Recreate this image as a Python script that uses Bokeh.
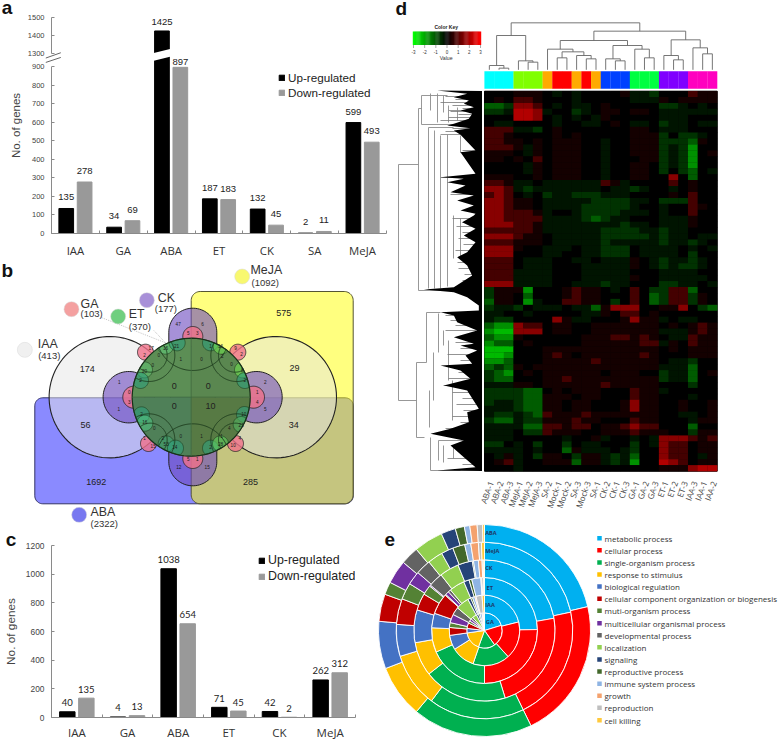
import math
import numpy as np
from bokeh.embed import file_html
from bokeh.resources import INLINE
from bokeh.layouts import row, column
from bokeh.models import (ColumnDataSource, FixedTicker, Legend, LegendItem,
                          LinearAxis, LinearColorMapper, Range1d)
from bokeh.plotting import figure
from bokeh.core.properties import value

# ---------- panel a ----------
a_cats = ["IAA", "GA", "ABA", "ET", "CK", "SA", "MeJA"]
a_up = [135, 34, 1425, 187, 132, 2, 599]
a_down = [278, 69, 897, 183, 45, 11, 493]
a_ticks = [0, 100, 200, 300, 400, 500, 600, 700, 800, 900, 1300, 1400, 1500]
# ---------- panel c ----------
c_cats = ["IAA", "GA", "ABA", "ET", "CK", "MeJA"]
c_up = [40, 4, 1038, 71, 42, 262]
c_down = [135, 13, 654, 45, 2, 312]
c_ticks = [0, 200, 400, 600, 800, 1000, 1200]
# ---------- panel b : region counts ----------
venn_big = [("174", 260, 340), ("575", 850, 172), ("29", 882, 338), ("34", 880, 508), ("56", 255, 507),
            ("1692", 287, 680), ("285", 750, 680), ("0", 521, 390), ("0", 623, 390), ("0", 521, 452), ("10", 630, 452)]
venn_small = [("47", 533, 205), ("6", 606, 205), ("5", 563, 231), ("3", 590, 231), ("17", 452, 277), ("2", 432, 298),
              ("16", 495, 278), ("21", 528, 270), ("0", 475, 297), ("0", 457, 328), ("1", 541, 309), ("0", 603, 309),
              ("1", 630, 270), ("16", 660, 272), ("9", 705, 277), ("2", 723, 295), ("2", 665, 300), ("0", 693, 326),
              ("20", 432, 345), ("2", 420, 372), ("8", 725, 343), ("2", 733, 373), ("1", 356, 380), ("1", 355, 459),
              ("0", 386, 410), ("3", 386, 440), ("2", 794, 379), ("5", 794, 459), ("1", 770, 410), ("4", 770, 440),
              ("2", 423, 476), ("16", 433, 500), ("0", 461, 516), ("2", 487, 547), ("1", 432, 547), ("15", 458, 570),
              ("53", 497, 565), ("14", 523, 573), ("0", 541, 540), ("1", 603, 540), ("1", 663, 540), ("4", 686, 517),
              ("10", 730, 476), ("21", 722, 507), ("4", 718, 548), ("10", 698, 568), ("2", 630, 573), ("28", 660, 565),
              ("5", 563, 610), ("1", 590, 610), ("12", 535, 635), ("15", 620, 635)]
venn_names = [("IAA", "(413)", 73, 283, 112, 265, 113, 300, "#F0F0F0"),
              ("GA", "(103)", 213, 161, 240, 145, 240, 175, "#F4A0A0"),
              ("ET", "(370)", 353, 183, 385, 175, 385, 213, "#6FCF7F"),
              ("CK", "(177)", 439, 134, 472, 128, 463, 158, "#A890D8"),
              ("MeJA", "(1092)", 725, 63, 750, 43, 753, 82, "#F8F870"),
              ("ABA", "(2322)", 236, 778, 270, 770, 270, 803, "#7878F0")]
# ---------- panel d ----------
d_samples = ["ABA-1", "ABA-2", "ABA-3", "MeJA-1", "MeJA-2", "MeJA-3", "SA-2", "Mock-1", "Mock-2", "SA-3", "Mock-3",
             "SA-1", "CK-2", "CK-1", "CK-3", "GA-1", "GA-2", "GA-3", "ET-1", "ET-2", "ET-3", "IAA-3", "IAA-1", "IAA-2"]
d_group_colors = ["#00FFFF"] * 3 + ["#80FF00"] * 3 + ["#FFAA00", "#FF0000", "#FF0000", "#FFAA00", "#FF0000", "#FFAA00"] + \
                 ["#0040FF"] * 3 + ["#00FF40"] * 3 + ["#8000FF"] * 3 + ["#FF00BF"] * 3
d_levels = {"0": -2.2, "1": -1.7, "2": -1.1, "3": -0.6, "4": -0.25, "5": 0, "6": 0.25, "7": 0.8, "8": 1.6, "9": 2.1}
d_rows = [
    "555 666 545455 556 443 555 766", "565 776 555455 555 444 656 666", "223 887 545445 655 555 334 545",
    "334 998 455345 665 665 444 444", "555 998 545454 655 555 444 555", "544 555 545544 565 445 344 544",
    "777 443 565555 555 665 444 555", "776 555 565655 555 666 353 345", "776 656 566655 455 666 333 265",
    "777 646 566655 455 666 343 155", "666 546 566655 455 666 343 156", "665 657 566655 455 566 343 155",
    "555 546 566655 455 665 343 155", "555 546 566655 455 665 353 254", "666 556 566655 455 665 585 255",
    "776 445 444444 764 555 575 655", "887 434 444444 544 345 545 655", "787 545 344333 444 555 565 755",
    "887 665 444443 333 445 333 755", "887 665 444433 333 455 455 765", "887 776 455433 334 445 455 755",
    "887 777 444432 344 555 444 655", "888 776 444444 443 445 444 655", "777 776 444444 333 344 344 555",
    "888 766 544444 333 334 344 544", "777 666 544444 344 444 344 345", "888 655 444544 333 544 445 454",
    "888 555 445544 333 544 445 355", "777 544 455445 444 654 344 345", "777 544 455544 444 654 343 345",
    "777 444 455544 444 555 444 455", "777 444 455544 444 655 444 445", "888 444 455444 344 555 334 454",
    "366 615 556766 545 753 377 255", "366 525 556766 555 752 377 365", "266 514 557766 535 752 377 365",
    "344 354 445442 688 855 668 532", "445 545 555544 657 756 555 555", "433 555 586445 556 866 454 455",
    "211 877 566556 666 666 565 676", "100 888 566556 666 666 444 676", "211 655 555566 677 676 544 766",
    "122 565 555566 666 677 465 766", "000 555 666666 666 666 565 666", "001 555 676566 666 676 555 666",
    "112 555 666667 666 666 544 355", "232 656 666666 666 666 444 255", "321 565 666666 566 655 344 256",
    "322 555 667666 666 666 344 255", "444 665 666666 766 666 555 355", "333 322 565666 555 766 455 555",
    "333 322 666566 555 766 555 455", "344 322 665665 556 866 556 556", "444 322 665665 556 866 556 556",
    "433 432 766676 666 666 554 456", "322 433 666766 555 766 555 466", "444 422 776775 667 877 555 255",
    "444 533 766655 666 766 655 366", "444 555 554556 455 454 888 767", "335 453 553544 555 354 877 566",
    "444 454 552644 454 355 877 566", "546 453 665366 434 255 877 546", "567 455 666266 434 155 987 566",
    "555 455 555555 555 555 666 899"]
# column dendrogram : (merge height, left, right), leaves are column indices
d_tree = (67, (105, (195, 0, (203, 1, 2)), (181, 3, (185, 4, 5))),
          (92, (120, (146, 6, (154, (172, 7, 8), (165, 9, (175, 10, 11)))),
                (135, (175, 12, (181, 13, 14)), (146, 15, (172, 16, 17)))),
           (118, (165, 18, (178, 19, 20)), (142, 21, (160, 22, 23)))))
# row dendrogram outline (black mass), (y, x), in three stretches
den_top = [(15, 80), (25, 170), (35, 130), (45, 175), (55, 160), (65, 190), (75, 150), (85, 185), (100, 175), (115, 130),
           (120, 110), (128, 180), (135, 130), (148, 150), (195, 195), (200, 150), (265, 195), (275, 90), (280, 160),
           (290, 110), (300, 165), (320, 120), (330, 190), (345, 140), (360, 190), (375, 150), (385, 195)]
den_mid = [(0, 190), (20, 155), (40, 195), (60, 160), (80, 195), (110, 170), (125, 140), (150, 170), (180, 185), (215, 130),
           (222, 40), (230, 130), (245, 170), (270, 205), (285, 205), (290, 90), (300, 130), (320, 140), (345, 200), (365, 130), (385, 190)]
den_low = [(0, 150), (15, 200), (30, 165), (55, 185), (60, 90), (75, 150), (100, 180), (120, 100), (135, 170), (190, 205),
           (200, 170), (230, 175), (250, 120), (265, 60), (285, 160), (300, 120), (335, 160), (365, 195), (375, 80)]
# gray branches of the row dendrogram, as (x0, y0, x1, y1)
den_lines = [(398, 164, 398, 400), (398, 164, 418, 164), (398, 400, 416, 400), (418, 108, 418, 290), (418, 108, 421, 108),
             (418, 290, 455, 290), (421, 95, 421, 124), (421, 95, 447, 95), (421, 124, 470, 124), (430, 93, 430, 110),
             (437, 93, 437, 122), (443, 95, 443, 112), (448, 105, 448, 122), (457, 107, 457, 120), (448, 110, 463, 110),
             (428, 127, 428, 288), (428, 127, 453, 127), (434, 130, 434, 288), (440, 135, 440, 288), (440, 177, 473, 177),
             (447, 134, 447, 177), (440, 134, 460, 134), (460, 135, 460, 152), (460, 152, 473, 152), (447, 177, 447, 286),
             (453, 215, 453, 258), (460, 218, 460, 258), (416, 362, 416, 437), (416, 362, 426, 362), (416, 437, 424, 437),
             (426, 312, 426, 362), (426, 312, 440, 312), (429, 390, 429, 427), (433, 352, 433, 400), (438, 313, 438, 352),
             (443, 330, 443, 345), (448, 340, 448, 380), (452, 380, 452, 420), (430, 437, 430, 470), (430, 470, 460, 470),
             (438, 440, 438, 460), (438, 440, 463, 440), (443, 445, 443, 462), (453, 445, 453, 458), (443, 385, 470, 385)]
# fine leaves left of the black mass: (y, x where the leaf starts)
den_comb = [(96, 445), (99, 455), (102, 440), (105, 452), (108, 462), (111, 450), (114, 458), (117, 448), (120, 440), (128, 452),
            (131, 445), (150, 462), (194, 450), (218, 452), (222, 462), (226, 456), (232, 462), (238, 458), (244, 463), (250, 455),
            (256, 460), (262, 457), (268, 458), (274, 464), (280, 462), (286, 455), (315, 445), (320, 450), (325, 455), (330, 445),
            (336, 462), (342, 455), (348, 460), (354, 447), (360, 460), (366, 452), (372, 458), (378, 448), (392, 452), (398, 462),
            (404, 456), (410, 463), (416, 452), (422, 460), (428, 445), (446, 452), (452, 460), (458, 447), (464, 462)]
# ---------- panel e : end angle of each class, degrees clockwise from the top ----------
e_terms = ["metabolic process", "cellular process", "single-organism process", "response to stimulus", "biological regulation",
           "cellular component organization or biogenesis", "muti-organism process", "multicellular organismal process",
           "developmental process", "localization", "signaling", "reproductive process", "immune system process",
           "growth", "reproduction", "cell killing"]
e_colors = ["#00B0F0", "#FF0000", "#00B050", "#FFC000", "#4472C4", "#C00000", "#548235", "#7030A0", "#636363", "#92D050",
            "#264478", "#43682B", "#8FB4E3", "#F4A26E", "#BFBFBF", "#FFC93C"]
e_rings = ["GA", "IAA", "ET", "CK", "MeJA", "ABA"]
e_GA = [73, 145, 200, 262, 277, 295, 303, 311, 318, 333, 340, 345, 352, 355, 358, 360]
e_IAA = [76, 138, 199, 238, 262, 275, 283, 297, 310, 332, 337, 340, 344, 346, 356, 360]
e_ET = [89, 180, 246, 273, 289, 312, 313, 317, 320, 337, 343, 346, 356, 357, 359, 360]
e_CK = [80, 163, 232, 260, 287, 301, 309, 310, 322, 338, 350, 351, 355, 358, 359, 360]
e_MeJA = [78, 154, 217, 253, 274, 291, 302, 311, 321, 331, 339, 347, 351, 356, 358, 360]
e_ABA = [77, 154, 220, 249, 275, 290, 297, 310, 320, 336, 344, 349, 352, 356, 359, 360]

SANS = "Liberation Sans"
AX = "#8A8A8A"


def blank(w, h, xr, yr, **kw):
    p = figure(width=w, height=h, x_range=xr, y_range=yr, toolbar_location=None, output_backend="svg",
               x_axis_type=None, y_axis_type=None, min_border=0, frame_align=False, **kw)
    p.grid.visible = False
    p.outline_line_color = None
    p.background_fill_color = None
    p.border_fill_color = None
    return p


def tag(p, s, x, y):
    p.text([x], [y], text=[s], text_font=value(SANS), text_font_style="bold", text_font_size="19px",
           text_color="#111111", text_baseline="alphabetic", level="overlay")


def bars(w, h, x0, x1, ybot, top_px, cats, up, down, f, y_end, ticks, bar_w, off, tick_pt, cat_pt, cat_off, lab_font, lab_pt,
         lab_off, leg_xy, leg_pt, ylabel_pt, ylabel_standoff):
    n = len(cats)
    p = figure(width=w, height=h, x_range=Range1d(0, n), y_range=Range1d(0, y_end), toolbar_location=None,
               output_backend="svg", min_border_left=int(round(x0)), min_border_right=w - int(round(x1)),
               min_border_top=int(round(top_px)), min_border_bottom=int(round(h - ybot)), frame_align=False,
               x_axis_type=None, y_axis_type=None)
    p.grid.visible = False
    p.outline_line_color = None
    p.border_fill_color = None
    xs = np.arange(n) + 0.5
    ftk = [float(f(t)) for t in ticks]
    yax = LinearAxis(ticker=FixedTicker(ticks=ftk),
                     major_label_overrides={(int(v) if v == int(v) else v): str(t) for v, t in zip(ftk, ticks)})
    yax.axis_label = "No. of genes"
    yax.axis_label_text_font = SANS
    yax.axis_label_text_font_style = "normal"
    yax.axis_label_text_font_size = ylabel_pt
    yax.axis_label_standoff = ylabel_standoff
    yax.major_label_text_font = SANS
    yax.major_label_text_font_size = tick_pt
    yax.major_label_standoff = 7
    yax.major_tick_in = 3
    yax.major_tick_out = 0
    yax.minor_tick_line_color = None
    yax.major_tick_line_color = AX
    yax.axis_line_color = AX
    p.add_layout(yax, "left")
    xax = LinearAxis(ticker=FixedTicker(ticks=list(range(n + 1))), major_label_text_font_size="1px",
                     major_label_overrides={i: "" for i in range(n + 1)})
    xax.major_label_standoff = 0
    xax.major_tick_line_color = AX
    xax.major_tick_in = 3
    xax.major_tick_out = 0
    xax.minor_tick_line_color = None
    xax.axis_line_color = AX
    p.add_layout(xax, "below")
    p.text(x=xs, y=[0] * n, text=cats, y_offset=cat_off, text_align="center", text_baseline="middle",
           text_font=value("Open Sans"), text_font_size=cat_pt, text_color="#333333", level="overlay")
    r1 = p.vbar(x=xs - off, top=[f(v) for v in up], width=bar_w, color="#000000")
    r2 = p.vbar(x=xs + off, top=[f(v) for v in down], width=bar_w, color="#999999")
    for xx, vals, os in ((xs - off, up, lab_off[0]), (xs + off, down, lab_off[1])):
        src = ColumnDataSource(dict(x=xx, y=[f(v) for v in vals], t=[str(v) for v in vals], o=os))
        p.text(x="x", y="y", text="t", y_offset="o", text_align="center", text_baseline="middle",
               text_font=value(lab_font), text_font_size=lab_pt, text_color="#222222", source=src, level="overlay")
    lg = Legend(items=[LegendItem(label="Up-regulated", renderers=[r1]), LegendItem(label="Down-regulated", renderers=[r2])],
                location=leg_xy, background_fill_alpha=0, border_line_color=None, glyph_width=7, glyph_height=7,
                label_text_font=SANS, label_text_font_size=leg_pt, label_standoff=3, padding=0, margin=0, spacing=2,
                label_height=12, label_text_color="#222222")
    p.add_layout(lg, "center")
    return p


# ---- panel a: broken axis, the part above the break is folded down
def fa(v):
    return v if v <= 900 else 972 + (v - 1300) * 0.97


a_s = 0.1855
a_off = ([-11, -11, -9, -11, -11, -11, -11], [-11, -11, -5, -11, -11, -11, -11])
pa = bars(388, 257, 50.7, 385.7, 233, 233 - fa(1500) * a_s, a_cats, a_up, a_down, fa, fa(1500), a_ticks, 0.307, 0.192,
          "7.5px", "11.4px", 17, "Liberation Sans", "9.5px", a_off, (227, 134), "11.7px", "11.5px", 3)
pa.yaxis[0].axis_line_color = None
pax = lambda X: (X - 50.7) / 47.86
pay = lambda Y: (233 - Y) / a_s
pa.segment(x0=[0, 0], x1=[0, 0], y0=[fa(0), fa(1300)], y1=[fa(900), fa(1500)], line_color=AX, level="overlay")
pa.segment(x0=[pax(45), pax(45)], x1=[pax(60), pax(60)], y0=[pay(57.3), pay(61.7)], y1=[pay(52), pay(56.7)],
           line_color="#666666", level="overlay")
pa.patch(x=[pax(153), pax(169.2), pax(169.2), pax(153)], y=[pay(52.3), pay(48.3), pay(56), pay(60)], color="white", line_width=0)
tag(pa, "a", pax(1), pay(7))

# ---- panel c
fc = lambda v: v
c_off = ([-9] * 6, [-9] * 6)
pc = bars(388, 209, 47.3, 355, 717.3 - 530, 14.7, c_cats, c_up, c_down, fc, 1200, c_ticks, 0.305, 0.188,
          "8.4px", "11.5px", 14.5, "Lato", "9.5px", c_off, (207, 134), "12.4px", "11.8px", 5)
tag(pc, "c", (1 - 47.3) / 51.28, (717.3 - 539) / 0.1438)


# ---- panel b
def Z(v):
    return v / 3


def ZY(v):
    return 255 + v / 3


pb = blank(388, 273, Range1d(0, 388), Range1d(530, 257))
CX, CY, CR = 190.7, 396.7, 59.0


def arc(cx, cy, r, a0=0, a1=360, n=90):
    t = np.radians(np.linspace(a0, a1, n))
    return cx + r * np.cos(t), cy + r * np.sin(t)


def rrect(x0, y0, x1, y1, r):
    xs, ys = [], []
    for cx, cy, a in ((x1 - r, y0 + r, 270), (x1 - r, y1 - r, 0), (x0 + r, y1 - r, 90), (x0 + r, y0 + r, 180)):
        ax, ay = arc(cx, cy, r, a, a + 90, 12)
        xs += list(ax)
        ys += list(ay)
    return xs, ys


def disk(x, y, r, color, alpha, lw=1.0, lc="#222222"):
    ax, ay = arc(x, y, r)
    pb.patch(ax, ay, fill_color=color, fill_alpha=alpha, line_color=lc, line_width=lw)


bx, by = rrect(34.3, 397.3, 352.7, 503.3, 8)
pb.patch(bx, by, fill_color="#0000FF", fill_alpha=0.46, line_color="#333366", line_width=1)
yx, yy = rrect(190.7, 291, 352.7, 503.3, 9)
pb.patch(yx, yy, fill_color="#FFFF00", fill_alpha=0.5, line_color="#555533", line_width=1)
for cx in (109.3, 275.3):
    disk(cx, CY, 60.7, "#E6E6E6", 0.5, 1.1)
for cx in (128.3, 256):
    disk(cx, CY, 25.7, "#6A48BE", 0.6)
for cy, d in ((331.7, 1), (461.3, -1)):
    ax, ay = arc(192.3, cy, 24, 180, 360, 40) if d == 1 else arc(192.3, cy, 24, 0, 180, 40)
    yend = cy + d * 30
    pb.patch(list(ax) + [216.3, 168.3] if d == 1 else list(ax) + [168.3, 216.3],
             list(ay) + [yend, yend], fill_color="#6A48BE", fill_alpha=0.6, line_color="#222222", line_width=1)
for cx, cy, r in ((192.3, 336, 10), (192.3, 458, 10), (133.3, CY, 11), (253, CY, 11), (145, 351.7, 8), (237.3, 351.7, 8),
                  (148, 443, 8), (235, 443, 8)):
    disk(cx, cy, r, "#F0708A", 0.8, 0.8)
# central disc, four quadrants
for a0, col in ((180, "#5C8E55"), (270, "#5A8750"), (90, "#4F8058"), (0, "#577A44")):
    ax, ay = arc(CX, CY, CR, a0, a0 + 90, 30)
    pb.patch(list(ax) + [CX], list(ay) + [CY], fill_color=col, line_color=col, line_width=0.5)


def inside_patch(cx, cy, r, color, alpha):
    ax, ay = arc(cx, cy, r)
    d = np.hypot(ax - CX, ay - CY)
    k = np.where(d > CR, CR / d, 1.0)
    pb.patch(CX + (ax - CX) * k, CY + (ay - CY) * k, fill_color=color, fill_alpha=alpha, line_color="#1C3A1C", line_width=0.6)


for zx, zy, col in ((495, 272, "#60C878"), (530, 262, "#2F9F7C"), (630, 262, "#2F9F7C"), (662, 272, "#70E050"),
                    (432, 343, "#60C070"), (420, 375, "#2F9F7C"), (726, 343, "#70E050"), (733, 375, "#2F9F7C"),
                    (732, 477, "#2F9F7C"), (722, 507, "#50B060"), (423, 478, "#2F9F7C"), (433, 503, "#50C080"),
                    (497, 565, "#40A070"), (525, 578, "#2F9F7C"), (630, 578, "#2F9F7C"), (660, 565, "#60D060")):
    inside_patch(Z(zx), ZY(zy), 8, col, 0.6)
for zx, zy, zr in ((577, 235, 110), (577, 617, 112), (450, 300, 50), (704, 300, 50), (450, 553, 50), (704, 553, 50),
                   (445, 300, 78), (709, 300, 78), (445, 553, 78), (709, 553, 78)):
    ax, ay = arc(Z(zx), ZY(zy), Z(zr), n=240)
    keep = np.hypot(ax - CX, ay - CY) < CR
    ax, ay = ax.astype(float), ay.astype(float)
    ax[~keep] = np.nan
    ay[~keep] = np.nan
    pb.line(ax, ay, line_color="#1C3A1C", line_width=0.9)
ax, ay = arc(CX, CY, CR)
pb.line(ax, ay, line_color="#18301A", line_width=1.2)
pb.segment(x0=[CX, CX - CR], x1=[CX, CX + CR], y0=[CY - CR, CY], y1=[CY + CR, CY], line_color="#3F6A40", line_width=0.8)
pb.segment(x0=[Z(300), Z(460)], x1=[Z(495), Z(495)], y0=[ZY(185), ZY(225)], y1=[ZY(262), ZY(262)],
           line_color="#AAAAAA", line_width=0.7, line_dash="1 1")
t, zx, zy = zip(*venn_big)
pb.text(x=[Z(v) for v in zx], y=[ZY(v) for v in zy], text=list(t), text_align="center", text_baseline="middle",
        text_font=value(SANS), text_font_size="9px", text_color="#222222")
t, zx, zy = zip(*venn_small)
pb.text(x=[Z(v) for v in zx], y=[ZY(v) for v in zy], text=list(t), text_align="center", text_baseline="middle",
        text_font=value(SANS), text_font_size="4.6px", text_color="#1A1A1A")
for name, cnt, cx, cy, nx, ny, kx, ky, col in venn_names:
    pb.scatter([Z(cx)], [ZY(cy)], size=15, marker="circle", fill_color=col, line_color="#D8D8D8", line_width=0.5)
    pb.text([Z(nx)], [ZY(ny)], text=[name], text_baseline="middle", text_font=value(SANS), text_font_size="12.4px", text_color="#333333")
    pb.text([Z(kx)], [ZY(ky)], text=[cnt], text_baseline="middle", text_font=value(SANS), text_font_size="9.5px", text_color="#333333")
tag(pb, "b", 1, 270)

# ---- panel d
pd_ = blank(390, 510, Range1d(388, 778), Range1d(510, 0))
HX0, HX1, HY0, HY1 = 484.0, 716.7, 90.7, 470.7
cw = (HX1 - HX0) / len(d_samples)
colx = HX0 + cw * (np.arange(len(d_samples)) + 0.5)
pal = ["#%02x%02x%02x" % (0, int(255 * (1 - i / 127)), 0) for i in range(128)] + \
      ["#%02x%02x%02x" % (int(255 * i / 127), 0, 0) for i in range(128)]
mapper = LinearColorMapper(palette=pal, low=-3, high=3)
pd_.quad(left=[HX0], right=[HX1], top=[HY0], bottom=[HY1], color="#000000")
rows_parsed = [[d_levels[c] for c in r.replace(" ", "")] for r in d_rows]
rh = (HY1 - HY0) / len(rows_parsed)
rx, ry, rv = [], [], []
for i, rr in enumerate(rows_parsed):
    for j, v in enumerate(rr):
        rx.append(colx[j])
        ry.append(HY0 + rh * (i + 0.5))
        rv.append(v)
pd_.rect(x="x", y="y", width=cw + 0.3, height=rh + 0.3, source=ColumnDataSource(dict(x=rx, y=ry, v=rv)),
         fill_color={"field": "v", "transform": mapper}, line_color=None)
pd_.rect(x=colx, y=[79.5] * 24, width=cw + 0.2, height=17.6, fill_color=d_group_colors, line_color=None)
pd_.text(x=colx + 1.5, y=[481] * 24, text=d_samples, angle=70, angle_units="deg", text_align="right", text_baseline="middle",
         text_font=value("Open Sans"), text_font_size="8.2px", text_color="#444444")


def walk(node):
    if isinstance(node, int):
        return colx[node], 69.3, []
    h, l, r = node
    xl, yl, sl = walk(l)
    xr, yr, sr = walk(r)
    hz = h / 3
    segs = sl + sr + [(xl, yl, xl, hz), (xl, hz, xr, hz), (xr, hz, xr, yr)]
    return (xl + xr) / 2, hz, segs


_, _, segs = walk(d_tree)
x0, y0, x1, y1 = zip(*segs)
pd_.segment(x0=x0, y0=y0, x1=x1, y1=y1, line_color="#666666", line_width=0.9)
gx0, gy0, gx1, gy1 = zip(*den_lines)
pd_.segment(x0=gx0, y0=gy0, x1=gx1, y1=gy1, line_color="#8C8C8C", line_width=0.9)
cy_, cx_ = zip(*den_comb)
pd_.segment(x0=cx_, x1=[476] * len(cx_), y0=cy_, y1=cy_, line_color="#777777", line_width=0.8)
outline = [(85 + zy / 3, 410 + zx / 3) for zy, zx in den_top] + [(215 + zy / 3, 410 + zx / 3) for zy, zx in den_mid] + \
          [(345 + zy / 3, 410 + zx / 3) for zy, zx in den_low]
ys_, xs_ = zip(*outline)
pd_.patch(x=list(xs_) + [481.5, 481.5], y=list(ys_) + [470.5, 90.5], color="#000000", line_width=0)
# colour key
kv = np.linspace(-3, 3, 61)
kdx = (480 - 413) / 60
pd_.rect(x=413 + (kv + 3) * 10 * kdx, y=[37.7] * 61, width=kdx + 0.3, height=13.4,
         fill_color=[pal[min(255, int((v + 3) / 6 * 256))] for v in kv], line_color=None)
key_ticks = [-3, -2, -1, 0, 1, 2, 3]
pd_.segment(x0=[413 + (k + 3) * 11.17 for k in key_ticks], x1=[413 + (k + 3) * 11.17 for k in key_ticks],
            y0=[44.5] * 7, y1=[47.5] * 7, line_color="#555555", line_width=0.5)
pd_.text(x=[413 + (k + 3) * 11.17 for k in key_ticks], y=[51.5] * 7, text=[str(k) for k in key_ticks], text_align="center",
         text_baseline="middle", text_font=value(SANS), text_font_size="4.5px", text_color="#333333")
pd_.text(x=[445.7], y=[57.5], text=["Value"], text_align="center", text_baseline="middle", text_font=value(SANS),
         text_font_size="5.2px", text_color="#333333")
pd_.text(x=[445.7], y=[26.7], text=["Color Key"], text_align="center", text_baseline="middle", text_font=value(SANS),
         text_font_size="5px", text_font_style="bold", text_color="#222222")
tag(pd_, "d", 395, 8)

# ---- panel e
EX, EY, ER = 484.0, 630.0, 106.0
pe = blank(401, 229, Range1d(377 - EX, 778 - EX), Range1d(EY - 739, EY - 510),
           styles={"transform": "translateX(-11px)"})
for k, (ring, ends) in enumerate(zip(e_rings, (e_GA, e_IAA, e_ET, e_CK, e_MeJA, e_ABA))):
    st = [0] + ends[:-1]
    pe.annular_wedge(x=0, y=0, inner_radius=ER * k / 6, outer_radius=ER * (k + 1) / 6,
                     start_angle=[math.radians(90 - a) for a in st], end_angle=[math.radians(90 - a) for a in ends],
                     direction="clock", fill_color=e_colors, line_color="white", line_width=0.9)
ring_lab = [("GA", 316, 333), ("IAA", 314, 284), ("ET", 318, 232), ("CK", 314, 172), ("MeJA", 314, 122), ("ABA", 314, 68)]
for s, zx, zy in ring_lab:
    pe.text([380 + zx / 3 - EX], [EY - (510 + zy / 3)], text=[s], text_baseline="middle", text_font=value("Open Sans"),
            text_font_size="5.6px", text_font_style="bold", text_color="#1F3864")
ly = [83, 119, 156, 192, 228, 265, 301, 338, 374, 410, 447, 483, 520, 556, 592, 629]
lyy = [EY - (510 + v / 3) for v in ly]
pe.scatter(x=[380 + 219 - EX] * 16, y=lyy, marker="square", size=4.5, fill_color=e_colors, line_color=None)
pe.text(x=[380 + 224 - EX] * 16, y=lyy, text=e_terms, text_baseline="middle", text_font=value("Open Sans"),
        text_font_size="8px", text_color="#333333")
tag(pe, "e", 384 - EX, EY - 539)

left = column(pa, pb, pc, spacing=0)
right = column(pd_, pe, spacing=0)
root = row(left, right, spacing=0)
open("out.html", "w").write(file_html(root, INLINE))
